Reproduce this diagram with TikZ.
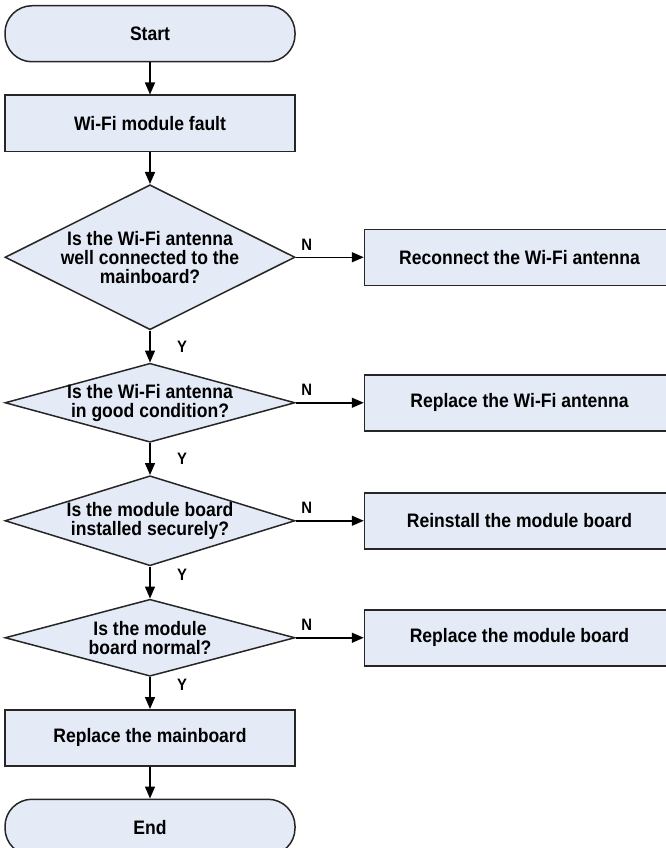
\documentclass[tikz,border=0pt]{standalone}
\usepackage{fontspec}
\setmainfont{Liberation Sans}[FakeStretch=0.9]
\usetikzlibrary{shapes.geometric, arrows.meta, positioning}
\definecolor{boxfill}{RGB}{228,235,247}

\begin{document}
\begin{tikzpicture}[
    x=1pt, y=1pt,
    node distance=32pt,
    base/.style={draw=black!85, line width=1.5pt, fill=boxfill, font=\fontsize{19.5}{19}\selectfont\bfseries, align=center},
    terminal/.style={base, rectangle, rounded corners=27pt, minimum width=290pt, minimum height=56pt},
    process/.style={base, rectangle, minimum width=290pt, minimum height=56pt},
    action/.style={base, rectangle, minimum width=310pt, minimum height=56pt},
    decision/.style={base, diamond, inner sep=-5pt, minimum width=290pt},
    arrow/.style={line width=1.5pt, -{Triangle[length=12pt, width=10pt]}},
    yn/.style={font=\fontsize{16.5}{18}\selectfont\bfseries}
]
    \useasboundingbox (0,0) rectangle (666,-848);

    \node[terminal, anchor=north] (start) at (150,-5) {Start};
    \node[process, below=of start] (fault) {Wi-Fi module fault};
    \node[decision, aspect=2, minimum height=145pt, below=of fault] (q1) {Is the Wi-Fi antenna\\well connected to the\\mainboard?};
    \node[decision, aspect=3.67, minimum height=79pt, below=of q1] (q2) {Is the Wi-Fi antenna\\in good condition?};
    \node[decision, aspect=3.22, minimum height=90pt, below=of q2] (q3) {Is the module board\\installed securely?};
    \node[decision, aspect=3.77, minimum height=77pt, below=of q3] (q4) {Is the module\\board normal?};
    \node[process, below=of q4] (mainboard) {Replace the mainboard};
    \node[terminal, below=of mainboard] (end) {End};

    \node[action, right=68pt of q1] (fix1) {Reconnect the Wi-Fi antenna};
    \node[action, right=68pt of q2] (fix2) {Replace the Wi-Fi antenna};
    \node[action, right=68pt of q3] (fix3) {Reinstall the module board};
    \node[action, right=68pt of q4] (fix4) {Replace the module board};

    \draw[arrow] (start) -- (fault);
    \draw[arrow] (fault) -- (q1);
    \draw[arrow] (q1) -- node[yn, right=23pt] {Y} (q2);
    \draw[arrow] (q2) -- node[yn, right=23pt] {Y} (q3);
    \draw[arrow] (q3) -- node[yn, pos=0.25, right=23pt] {Y} (q4);
    \draw[arrow] (q4) -- node[yn, pos=0.25, right=23pt] {Y} (mainboard);
    \draw[arrow] (mainboard) -- (end);

    \draw[arrow] (q1) -- node[yn, pos=0.16, above=3pt] {N} (fix1);
    \draw[arrow] (q2) -- node[yn, pos=0.16, above=3pt] {N} (fix2);
    \draw[arrow] (q3) -- node[yn, pos=0.16, above=3pt] {N} (fix3);
    \draw[arrow] (q4) -- node[yn, pos=0.16, above=3pt] {N} (fix4);

\end{tikzpicture}
\end{document}
